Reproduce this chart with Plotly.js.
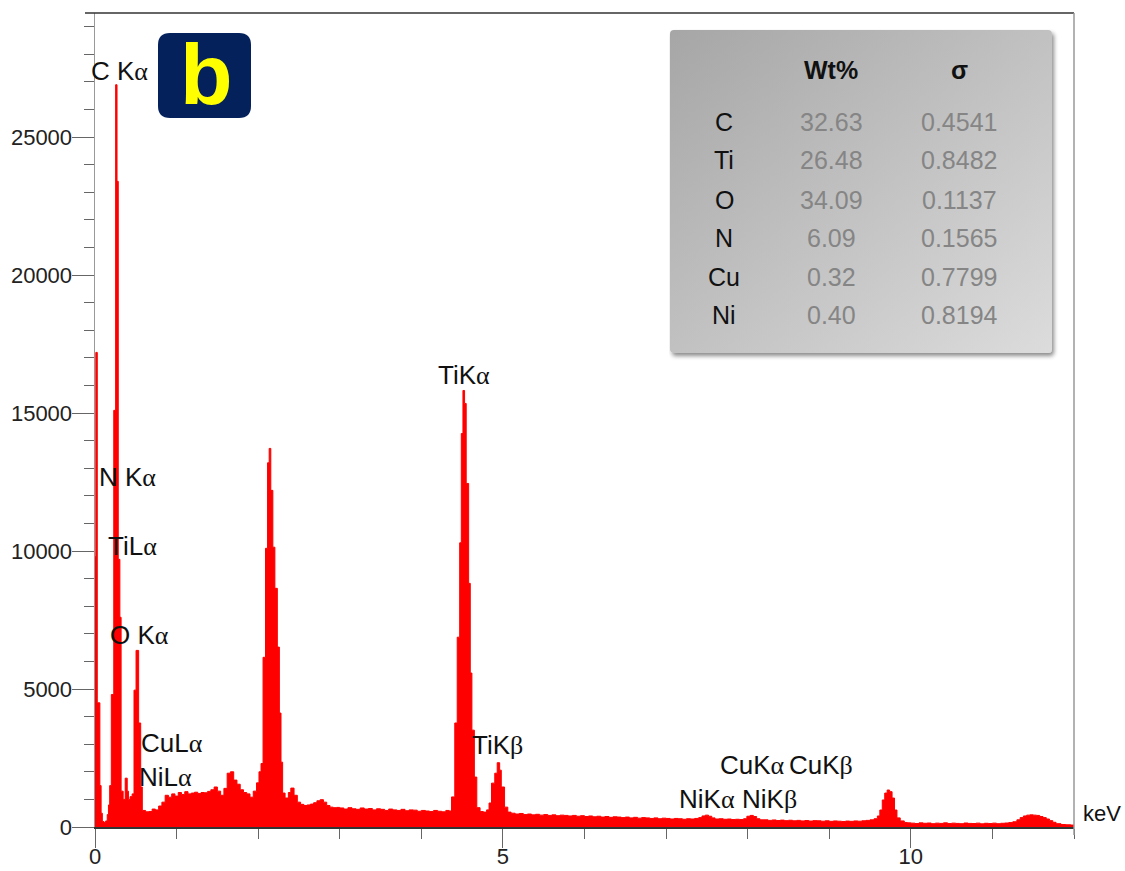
<!DOCTYPE html>
<html>
<head>
<meta charset="utf-8">
<script src="https://cdn.plot.ly/plotly-3.0.1.min.js"></script>
<style>html,body{margin:0;padding:0;background:#fff;}#chart{width:1125px;height:871px;}</style>
</head>
<body>
<div id="chart"></div>
<script>
// ---- Spectrum data (energy in keV, counts) ----
const eLow   = [0.000,0.010,0.028,0.060,0.075,0.090,0.110,0.130,0.150,0.165,0.180,0.200,0.230,0.253,0.270,0.285,0.305,0.320,0.345,0.370,0.395,0.410,0.430,0.455,0.478,0.503,0.535,0.560,0.580];
const cLow   = [9800,17200,4500,1500,500,200,160,220,450,800,1500,4800,15100,26900,23400,9700,7600,1300,1000,1770,1300,1000,1100,1200,4960,6400,3770,1450,600];
const eBg1   = [0.62,0.66,0.70,0.74,0.78,0.82,0.86,0.90,0.94,0.98,1.02,1.06,1.10,1.14,1.18,1.22,1.26,1.30,1.34,1.38,1.42,1.46,1.50,1.54,1.58,1.62,1.66,1.70,1.74,1.78,1.82,1.86,1.90,1.94,1.98];
const cBg1   = [550,560,650,620,760,900,1150,1080,1200,1120,1250,1180,1280,1200,1230,1260,1210,1250,1240,1290,1350,1450,1300,1150,1400,1950,2000,1700,1550,1350,1250,1200,1080,1300,1600];
const ePk2   = [2.01,2.035,2.06,2.09,2.115,2.135,2.155,2.18,2.205,2.235,2.26,2.28,2.30,2.33,2.37,2.40,2.44,2.48,2.52,2.56,2.60,2.64,2.68,2.72,2.76,2.80,2.84,2.88,2.92,2.96];
const cPk2   = [2000,2300,6150,10100,13200,13720,12200,10140,8650,6520,4130,2350,1230,1050,1250,1410,1150,900,820,780,800,830,880,950,990,900,780,720,700,710];
const eBg2   = [3.00,3.05,3.10,3.15,3.20,3.25,3.30,3.35,3.40,3.45,3.50,3.55,3.60,3.65,3.70,3.75,3.80,3.85,3.90,3.95,4.00,4.05,4.10,4.15,4.20,4.25,4.30];
const cBg2   = [690,650,700,660,640,690,650,670,620,660,640,600,650,620,600,640,590,620,610,570,600,580,560,600,570,550,600];
const eTiK   = [4.34,4.37,4.41,4.44,4.47,4.49,4.51,4.53,4.55,4.58,4.60,4.62,4.65,4.68,4.72,4.76,4.80,4.83,4.86,4.90,4.93,4.96,4.98,5.02,5.06];
const cTiK   = [580,1090,3770,6880,10300,14260,15820,15350,12450,8830,5580,3510,1810,700,560,540,620,870,1590,1950,2330,2060,1450,720,540];
const eBg3   = [5.10,5.15,5.20,5.25,5.30,5.35,5.40,5.45,5.50,5.55,5.60,5.65,5.70,5.75,5.80,5.85,5.90,5.95,6.00,6.05,6.10,6.15,6.20,6.25,6.30,6.35,6.40,6.45,6.50,6.55,6.60,6.65,6.70,6.75,6.80,6.85,6.90,6.95,7.00,7.05,7.10,7.15,7.20,7.25,7.30,7.35];
const cBg3   = [500,470,490,450,470,440,460,430,450,420,440,410,430,420,400,420,390,410,380,400,370,390,360,380,350,370,360,340,360,330,350,320,340,330,310,330,300,320,310,290,310,300,280,300,290,310];
const eNiCu  = [7.40,7.44,7.48,7.52,7.56,7.60,7.65,7.70,7.75,7.80,7.85,7.90,7.95,7.99,8.03,8.07,8.11,8.15];
const cNiCu  = [340,400,430,390,330,290,300,280,290,270,280,270,300,390,420,380,300,260];
const eBg4   = [8.20,8.25,8.30,8.35,8.40,8.45,8.50,8.55,8.60,8.65,8.70,8.75,8.80,8.85,8.90,8.95,9.00,9.05,9.10,9.15,9.20,9.25,9.30,9.35,9.40,9.45,9.50];
const cBg4   = [260,240,255,235,250,230,245,225,240,220,235,215,230,225,210,225,205,220,210,200,215,205,220,210,225,240,260];
const ePk97  = [9.55,9.59,9.62,9.65,9.68,9.71,9.74,9.77,9.80,9.83,9.87,9.92];
const cPk97  = [300,400,615,980,1230,1340,1280,1050,615,330,220,160];
const eBg5   = [9.96,10.00,10.05,10.10,10.15,10.20,10.25,10.30,10.35,10.40,10.45,10.50,10.55,10.60,10.65,10.70,10.75,10.80,10.85,10.90,10.95,11.00,11.05,11.10,11.15,11.20,11.25];
const cBg5   = [150,140,125,150,135,145,120,140,130,150,125,140,130,120,145,130,125,140,115,135,125,140,120,135,145,160,190];
const ePk115 = [11.30,11.34,11.38,11.42,11.46,11.50,11.54,11.58,11.62,11.66,11.70,11.74,11.78,11.84,11.90,11.96,12.00];
const cPk115 = [260,340,400,430,440,430,420,380,340,290,230,170,120,90,80,70,70];

// ---- Table data ----
const tableHeaders = ['Wt%', 'σ'];
const elements = ['C', 'Ti', 'O', 'N', 'Cu', 'Ni'];
const wtPercent = ['32.63', '26.48', '34.09', '6.09', '0.32', '0.40'];
const sigma = ['0.4541', '0.8482', '0.1137', '0.1565', '0.7799', '0.8194'];

// ---- Peak labels ----
const A = '<span style="font-family:Liberation Serif, serif">α</span>';
const Bt = '<span style="font-family:Liberation Serif, serif">β</span>';
const peakLabels = ['C K' + A, 'N K' + A, 'TiL' + A, 'O K' + A, 'CuL' + A, 'NiL' + A,
                    'TiK' + A, 'TiK' + Bt, 'NiK' + A, 'NiK' + Bt, 'CuK' + A, 'CuK' + Bt];
const axisUnit = 'keV';
const panelLetter = 'b';

// ---- layout geometry (pixels) ----
const L = 95, R = 1074, T = 13, B = 827;
const W = R - L, H = B - T;
const px = x => (x - L) / W;
const py = y => (B - y) / H;

const energy = [].concat(eLow, eBg1, ePk2, eBg2, eTiK, eBg3, eNiCu, eBg4, ePk97, eBg5, ePk115);
const counts = [].concat(cLow, cBg1, cPk2, cBg2, cTiK, cBg3, cNiCu, cBg4, cPk97, cBg5, cPk115);

const FONT = 'Liberation Sans, Arial, Helvetica, sans-serif';

const trace = {
  x: energy, y: counts, type: 'scatter', mode: 'lines',
  line: {shape: 'hv', color: '#ff0000', width: 1},
  fill: 'tozeroy', fillcolor: '#ff0000', hoverinfo: 'skip'
};

const annotations = [];
const labelPos = [[119,71],[127,477],[132,546],[139,635],[172,743],[165,777],
                  [464,375],[497,745],[707,799],[769,799],[752,765],[821,765]];
peakLabels.forEach((t, i) => {
  annotations.push({text: t, xref: 'paper', yref: 'paper', x: px(labelPos[i][0]), y: py(labelPos[i][1]),
    xanchor: 'center', yanchor: 'middle', showarrow: false, font: {family: FONT, size: 26, color: '#111'}});
});
annotations.push({text: axisUnit, xref: 'paper', yref: 'paper', x: px(1102), y: py(813),
  xanchor: 'center', yanchor: 'middle', showarrow: false, font: {family: FONT, size: 22, color: '#111'}});
annotations.push({text: '<b>' + panelLetter + '</b>', xref: 'paper', yref: 'paper', x: px(206), y: py(74),
  xanchor: 'center', yanchor: 'middle', showarrow: false, font: {family: FONT, size: 86, color: '#ffff00'}});

// table
const colX = [831, 959];
tableHeaders.forEach((h, i) => annotations.push({text: '<b>' + h + '</b>', xref: 'paper', yref: 'paper',
  x: px(colX[i]), y: py(70), xanchor: 'center', yanchor: 'middle', showarrow: false,
  font: {family: FONT, size: 25, color: '#111'}}));
const rowY = [122, 160, 200, 238, 277, 315];
elements.forEach((el, i) => {
  annotations.push({text: el, xref: 'paper', yref: 'paper', x: px(724), y: py(rowY[i]), xanchor: 'center', yanchor: 'middle',
    showarrow: false, font: {family: FONT, size: 25, color: '#111'}});
  annotations.push({text: wtPercent[i], xref: 'paper', yref: 'paper', x: px(colX[0]), y: py(rowY[i]), xanchor: 'center', yanchor: 'middle',
    showarrow: false, font: {family: FONT, size: 25, color: '#858585'}});
  annotations.push({text: sigma[i], xref: 'paper', yref: 'paper', x: px(colX[1]), y: py(rowY[i]), xanchor: 'center', yanchor: 'middle',
    showarrow: false, font: {family: FONT, size: 25, color: '#858585'}});
});

// badge rounded rect path in paper coords
function roundRect(x0, y0, x1, y1, r) {
  const X = v => px(v).toFixed(5), Y = v => py(v).toFixed(5);
  return `M${X(x0+r)},${Y(y0)} L${X(x1-r)},${Y(y0)} Q${X(x1)},${Y(y0)} ${X(x1)},${Y(y0+r)} ` +
         `L${X(x1)},${Y(y1-r)} Q${X(x1)},${Y(y1)} ${X(x1-r)},${Y(y1)} L${X(x0+r)},${Y(y1)} ` +
         `Q${X(x0)},${Y(y1)} ${X(x0)},${Y(y1-r)} L${X(x0)},${Y(y0+r)} Q${X(x0)},${Y(y0)} ${X(x0+r)},${Y(y0)} Z`;
}

const shapes = [
  {type: 'line', xref: 'paper', yref: 'paper', x0: px(85), x1: 1, y0: 1, y1: 1, line: {color: '#333', width: 1.5}},
  {type: 'line', xref: 'paper', yref: 'paper', x0: 1, x1: 1, y0: 1, y1: py(835), line: {color: '#999', width: 1.5}},
  {type: 'path', xref: 'paper', yref: 'paper', path: roundRect(158, 33, 251, 118, 12), fillcolor: '#04215c', line: {width: 0}}
];

const svg = '<svg xmlns="http://www.w3.org/2000/svg" width="392" height="332" viewBox="0 0 392 332">' +
  '<defs><linearGradient id="g" x1="0" y1="0" x2="1" y2="1"><stop offset="0" stop-color="#a6a6a6"/><stop offset="1" stop-color="#dcdcdc"/></linearGradient>' +
  '<filter id="s" x="-5%" y="-5%" width="115%" height="115%"><feDropShadow dx="2" dy="3" stdDeviation="2" flood-color="#000" flood-opacity="0.45"/></filter></defs>' +
  '<rect x="1" y="1" width="382" height="323" rx="4" fill="url(#g)" filter="url(#s)"/></svg>';

const images = [{
  source: 'data:image/svg+xml;charset=utf-8,' + encodeURIComponent(svg),
  xref: 'paper', yref: 'paper', x: px(669), y: py(29), sizex: 392 / W, sizey: 332 / H,
  xanchor: 'left', yanchor: 'top', sizing: 'stretch', layer: 'above'
}];

const tickFont = {family: FONT, size: 22, color: '#222'};
const layout = {
  width: 1125, height: 871,
  margin: {l: L, r: 1125 - R, t: T, b: 871 - B, pad: 0},
  paper_bgcolor: '#fff', plot_bgcolor: '#fff', showlegend: false,
  xaxis: {range: [0, 12], tickmode: 'linear', tick0: 0, dtick: 5, ticks: 'outside', ticklen: 19, tickwidth: 1,
    tickcolor: '#666', showline: true, linecolor: '#333', linewidth: 1.5, showgrid: false, zeroline: false,
    tickfont: tickFont, fixedrange: true, ticklabelstandoff: -10,
    minor: {tick0: 0, dtick: 1, ticks: 'outside', ticklen: 10, tickwidth: 1, tickcolor: '#666', showgrid: false}},
  yaxis: {range: [0, 29500], tickmode: 'linear', tick0: 0, dtick: 5000, tickformat: 'd', ticks: 'outside', ticklen: 22,
    tickwidth: 1, tickcolor: '#666', showline: true, linecolor: '#999', linewidth: 1.5, showgrid: false, zeroline: false,
    tickfont: tickFont, fixedrange: true, ticklabelstandoff: -5,
    minor: {tick0: 0, dtick: 1000, ticks: 'outside', ticklen: 10, tickwidth: 1, tickcolor: '#666', showgrid: false}},
  annotations: annotations, shapes: shapes, images: images
};

Plotly.newPlot('chart', [trace], layout, {displayModeBar: false, staticPlot: true});
</script>
</body>
</html>
